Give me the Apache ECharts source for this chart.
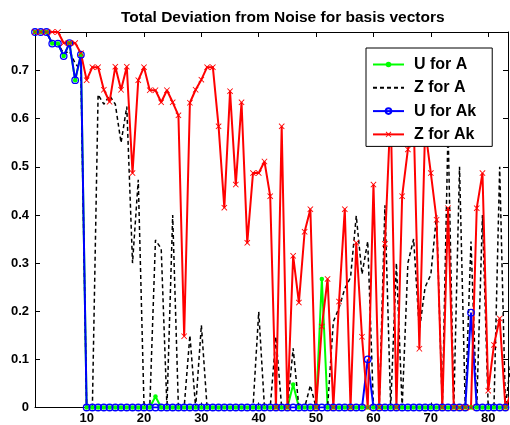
<!DOCTYPE html>
<html><head><meta charset="utf-8">
<script src="https://cdn.jsdelivr.net/npm/echarts@6/dist/echarts.min.js"></script>
<style>html,body{margin:0;padding:0;background:#fff}#c{width:510px;height:425px}</style>
</head><body><div id="c"></div>
<script>
const xIndex = [1,2,3,4,5,6,7,8,9,10,11,12,13,14,15,16,17,18,19,20,21,22,23,24,25,26,27,28,29,30,31,32,33,34,35,36,37,38,39,40,41,42,43,44,45,46,47,48,49,50,51,52,53,54,55,56,57,58,59,60,61,62,63,64,65,66,67,68,69,70,71,72,73,74,75,76,77,78,79,80,81,82,83,84];

const uForA = [0.78,0.78,0.78,0.756,0.756,0.73,0.757,0.68,0.733,0,0,0,0,0,0,0,0,0,0,0,0,0.023,0,0,0,0,0,0,0,0,0,0,0,0,0,0,0,0,0,0,0,0,0,0,0,0.048,0,0,0,0,0.267,0,0,0,0,0,0,0,0,0,0,0,0,0,0,0,0,0,0,0,0,0,0,0,0,0,0,0,0,0,0,0,0,0];

const zForA = [0.78,0.78,0.78,0.757,0.757,0.735,0.74,0.715,0.7,0,0,0.65,0.63,0.648,0.63,0.55,0.625,0.3,0.473,0.005,0,0.348,0.33,0,0.4,0,0,0.15,0,0.171,0,0,0,0,0,0,0,0,0,0.199,0,0,0.147,0,0,0.123,0,0,0.046,0,0,0,0.178,0.207,0.247,0.27,0.398,0.277,0.345,0,0,0.42,0,0.3,0,0.3,0.35,0.16,0.25,0.276,0.4,0,0.58,0,0.5,0,0.345,0,0.4,0,0,0.5,0,0.1];

const uForAk = [0.78,0.78,0.78,0.756,0.756,0.73,0.757,0.68,0.733,0,0,0,0,0,0,0,0,0,0,0,0,0,0,0,0,0,0,0,0,0,0,0,0,0,0,0,0,0,0,0,0,0,0,0,0,0,0,0,0,0,0,0,0,0,0,0,0,0,0.1,0,0,0,0,0,0,0,0,0,0,0,0,0,0,0,0,0,0.197,0,0,0,0,0,0,0];

const zForAk = [0.78,0.78,0.78,0.78,0.78,0.757,0.757,0.757,0.736,0.68,0.707,0.707,0.66,0.635,0.708,0.66,0.708,0.487,0.68,0.707,0.659,0.659,0.634,0.659,0.634,0.607,0.148,0.633,0.66,0.681,0.707,0.707,0.584,0.415,0.657,0.463,0.634,0.342,0.487,0.487,0.511,0.439,0,0.584,0,0.315,0.218,0.365,0.412,0,0.168,0.267,0,0.22,0.412,0,0.342,0.147,0,0.463,0,0.34,0.62,0,0.439,0.536,0.6,0.122,0.58,0.487,0.39,0,0.414,0,0,0,0,0.414,0.487,0.035,0.13,0.185,0,0.03];

const xTicks = [10,20,30,40,50,60,70,80];
const yTicks = [0,0.1,0.2,0.3,0.4,0.5,0.6,0.7];
const seriesNames = ['U for A','Z for A','U for Ak','Z for Ak'];

const pairs = v => xIndex.map((x,i)=>[x, v[i]]);
const FONT = 'Liberation Sans';
const X_MARK = 'path://M1,0L5,4L9,0L10,1L6,5L10,9L9,10L5,6L1,10L0,9L4,5L0,1Z';
const XMIN = 1, XMAX = 83.45, YMIN = 0, YMAX = 0.78;

const chart = echarts.init(document.getElementById('c'), null, {renderer:'canvas'});
const tickStyle = {show:true, inside:true, length:5, lineStyle:{color:'#000', width:1}};
chart.setOption({
  animation:false,
  backgroundColor:'#fff',
  title:{text:'Total Deviation from Noise for basis vectors', left:116, top:5,
    textStyle:{fontFamily:FONT, fontWeight:'bold', fontSize:15.5, color:'#000'}},
  grid:{left:35, right:2, top:32, bottom:17.5, containLabel:false},
  legend:{orient:'vertical', left:366, top:48, itemWidth:31, itemHeight:7, itemGap:5.3, z:10,
    padding:[7.5,16,3,6], backgroundColor:'#fff', borderColor:'#000', borderWidth:1,
    selectedMode:false,
    textStyle:{fontFamily:FONT, fontWeight:'bold', fontSize:16, color:'#000', lineHeight:18, padding:[0,0,0,5]},
    data:[seriesNames[0], {name:seriesNames[1], itemStyle:{opacity:0}}, seriesNames[2], seriesNames[3]]},
  xAxis:[
    {type:'value', min:XMIN, max:XMAX, position:'bottom',
      axisLine:{show:true, onZero:false, lineStyle:{color:'#000', width:1}},
      axisTick:Object.assign({customValues:xTicks}, tickStyle),
      axisLabel:{customValues:xTicks, margin:4, fontFamily:FONT, fontWeight:'bold', fontSize:13, color:'#000'},
      splitLine:{show:false}},
    {type:'value', min:XMIN, max:XMAX, position:'top',
      axisLine:{show:true, onZero:false, lineStyle:{color:'#000', width:1}},
      axisTick:Object.assign({customValues:xTicks}, tickStyle),
      axisLabel:{show:false}, splitLine:{show:false}}
  ],
  yAxis:[
    {type:'value', min:YMIN, max:YMAX, position:'left',
      axisLine:{show:true, onZero:false, lineStyle:{color:'#000', width:1}},
      axisTick:Object.assign({customValues:yTicks}, tickStyle),
      axisLabel:{customValues:yTicks, margin:6, fontFamily:FONT, fontWeight:'bold', fontSize:13, color:'#000'},
      splitLine:{show:false}},
    {type:'value', min:YMIN, max:YMAX, position:'right',
      axisLine:{show:true, onZero:false, lineStyle:{color:'#000', width:1}},
      axisTick:Object.assign({customValues:yTicks}, tickStyle),
      axisLabel:{show:false}, splitLine:{show:false}}
  ],
  series:[
    {name:seriesNames[0], type:'line', data:pairs(uForA), symbol:'circle', symbolSize:4.5,
      itemStyle:{color:'#00ff00'}, lineStyle:{color:'#00ff00', width:2}, z:2, silent:true},
    {name:seriesNames[1], type:'line', data:pairs(zForA), symbol:'none',
      itemStyle:{color:'#000'}, lineStyle:{color:'#000', width:1.5, type:[4,3]}, z:2, silent:true},
    {name:seriesNames[2], type:'line', data:pairs(uForAk), symbol:'circle', symbolSize:6.5,
      itemStyle:{color:'rgba(0,0,0,0)', borderColor:'#0000ff', borderWidth:1.3},
      lineStyle:{color:'#0000ff', width:2}, z:2, silent:true},
    {name:seriesNames[3], type:'line', data:pairs(zForAk), symbol:X_MARK, symbolSize:6,
      itemStyle:{color:'#ff0000'}, lineStyle:{color:'#ff0000', width:2}, z:2, silent:true}
  ]
});
</script></body></html>
